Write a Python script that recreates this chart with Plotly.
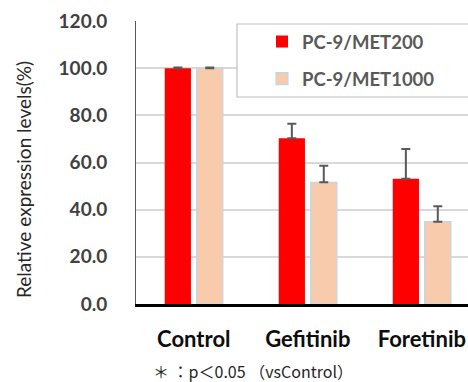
import plotly.graph_objects as go

categories = ["Control", "Gefitinib", "Foretinib"]
met200 = [100.0, 70.3, 53.1]
met200_err = [0.3, 6.1, 12.6]
met1000 = [100.0, 51.6, 34.9]
met1000_err = [0.3, 7.0, 6.5]
y_ticks = [0, 20, 40, 60, 80, 100, 120]
y_ticklabels = ["0.0", "20.0", "40.0", "60.0", "80.0", "100.0", "120.0"]

W, H = 468, 382
L, R, T, B = 136, 0, 21, 78

fig = go.Figure()
fig.add_trace(go.Bar(
    x=[0, 1, 2], y=met200, name="PC-9/MET200",
    width=0.23, offset=-0.255,
    marker=dict(color="#FF0000", line=dict(width=0)),
    error_y=dict(type="data", array=met200_err, arrayminus=[0, 0, 0], symmetric=False,
                 color="#595959", thickness=2, width=4.5),
    legendgroup="a",
))
fig.add_trace(go.Bar(
    x=[0, 1, 2], y=met1000, name="PC-9/MET1000",
    width=0.23, offset=0.025,
    marker=dict(color="#F8CBAD", line=dict(width=1.2, color="#BDD7EE")),
    error_y=dict(type="data", array=met1000_err, arrayminus=[0, 0, 0], symmetric=False,
                 color="#595959", thickness=2, width=4.5),
    legendgroup="b",
))

pw = W - L - R
ph = H - T - B
def px_x(p):
    return (p - L) / pw
def px_y(p):
    return (H - B - p) / ph

fig.add_shape(type="rect", xref="paper", yref="paper",
              x0=px_x(237), x1=px_x(480), y0=px_y(97), y1=px_y(24),
              fillcolor="white", line=dict(color="#BFBFBF", width=1.2), layer="above")

fig.add_annotation(text="＊ ：p＜0.05 （vsControl）", xref="paper", yref="paper",
                   x=px_x(151), y=px_y(371), xanchor="left", yanchor="middle",
                   showarrow=False,
                   font=dict(family="Noto Sans CJK JP", size=16, color="#262626"))

fig.add_annotation(text="Relative expression levels(%)", xref="paper", yref="paper",
                   x=px_x(23), y=px_y(180), xanchor="center", yanchor="middle",
                   textangle=-90, showarrow=False,
                   font=dict(family="Lato", size=19, color="#262626"))

fig.update_layout(
    width=W, height=H,
    margin=dict(l=L, r=R, t=T, b=B, autoexpand=False),
    plot_bgcolor="white", paper_bgcolor="white",
    barmode="overlay",
    showlegend=True,
    legend=dict(x=px_x(262), y=px_y(23), xanchor="left", yanchor="top",
                bgcolor="rgba(0,0,0,0)", borderwidth=0,
                traceorder="grouped", tracegroupgap=10,
                font=dict(family="Lato", size=18.5, color="#595959", weight="bold")),
    xaxis=dict(
        range=[-0.507, 2.405], tickmode="array", tickvals=[0, 1, 2], ticktext=categories,
        showgrid=False, showline=True, linecolor="#000000", linewidth=2.5,
        ticks="", ticklabelstandoff=14,
        tickfont=dict(family="Lato", size=22, color="#0D0D0D", weight="bold"),
        zeroline=False,
    ),
    yaxis=dict(
        range=[0, 120], tickmode="array", tickvals=y_ticks, ticktext=y_ticklabels,
        showgrid=True, gridcolor="#D9D9D9", gridwidth=1.5,
        showline=True, linecolor="#595959", linewidth=1,
        ticks="", ticklabelstandoff=24,
        tickfont=dict(family="Lato", size=19, color="#404040", weight="bold"),
        zeroline=False,
    ),
)

fig.write_html("out.html", config={"displayModeBar": False},
               post_script="document.body.style.margin='0';document.body.style.overflow='hidden';")
